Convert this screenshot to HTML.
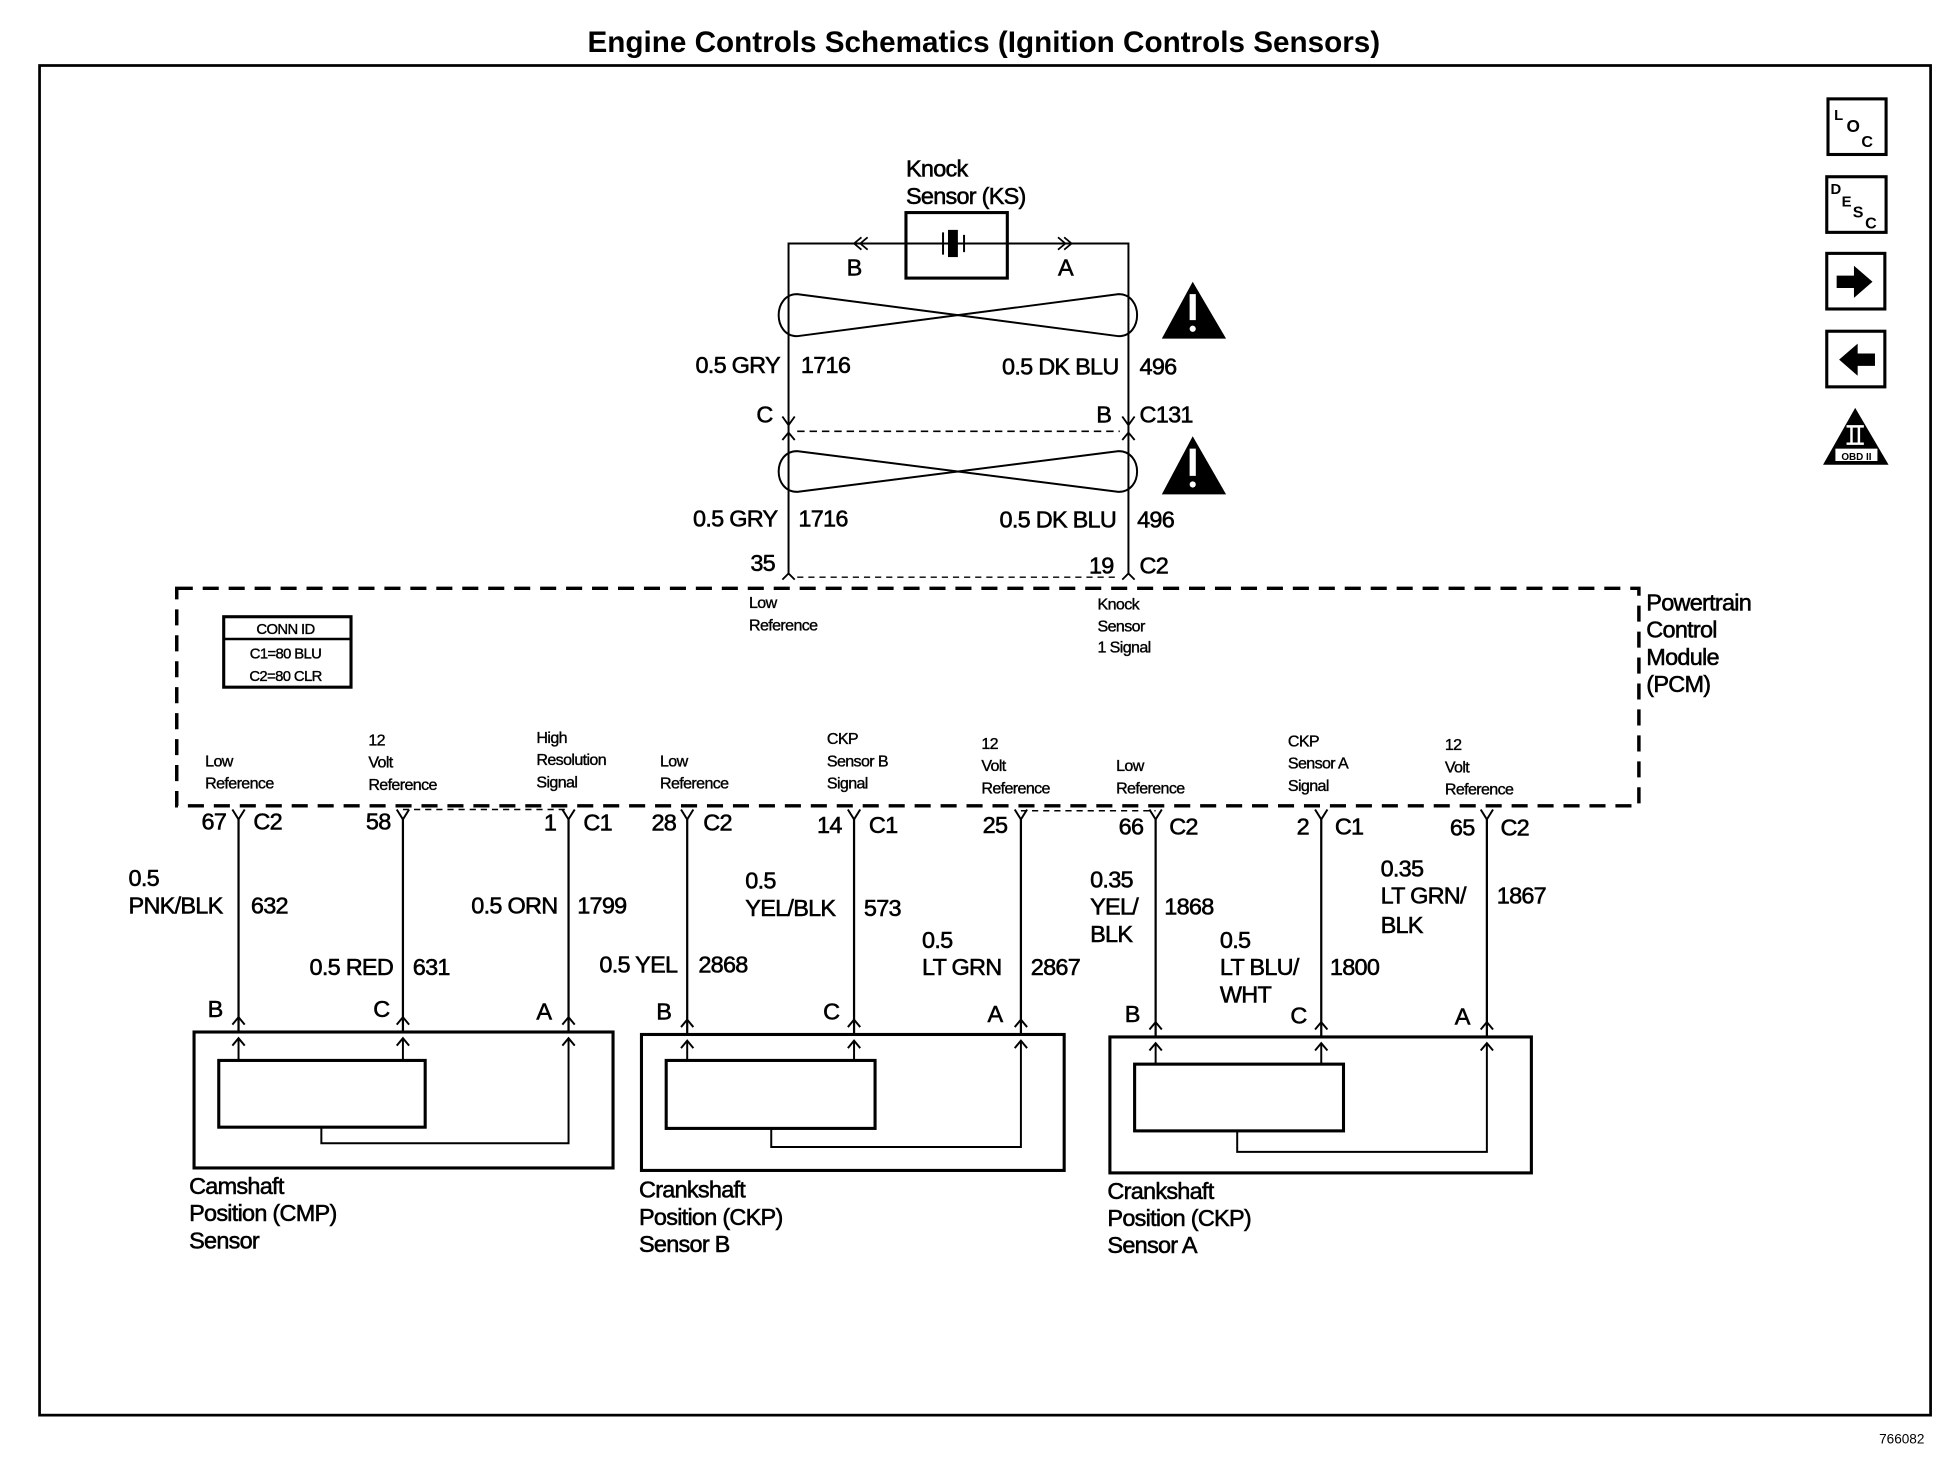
<!DOCTYPE html>
<html><head><meta charset="utf-8"><style>
html,body{margin:0;padding:0;background:#fff;}
svg{display:block;}
text{font-family:"Liberation Sans",sans-serif;fill:#000;}
.m{font-size:19px;letter-spacing:-0.6px;stroke:#000;stroke-width:0.45px;}
.s{font-size:13px;letter-spacing:-0.5px;stroke:#000;stroke-width:0.3px;}
</style></head><body>
<svg width="1938" height="1472" viewBox="0 0 1568 1191" preserveAspectRatio="none" xmlns="http://www.w3.org/2000/svg">
<defs>
<path id="up" d="M-5,6 L0,0 L5,6" fill="none" stroke="#000" stroke-width="1.6"/>
<path id="yy" d="M-5,-8 L0,0 L5,-8" fill="none" stroke="#000" stroke-width="1.6"/>
</defs>
<g stroke="#000" fill="none">
<text x="796" y="42" text-anchor="middle" style="font-size:24px;font-weight:bold;letter-spacing:0px" stroke="none">Engine Controls Schematics (Ignition Controls Sensors)</text>
<rect x="32" y="53" width="1530" height="1092" stroke-width="2.2"/>

<rect x="733" y="172" width="82" height="53" stroke-width="2.5"/>
<path d="M638,465 V197 H913 V465" stroke-width="1.6"/>
<rect x="767" y="186" width="8" height="22" fill="#000" stroke="none"/>
<path d="M763,188 V206 M780,190 V204" stroke-width="1.6"/>
<path d="M697,192 L691,197 L697,202 M702,192 L696,197 L702,202" stroke-width="1.4"/>
<path d="M856,192 L862,197 L856,202 M861,192 L867,197 L861,202" stroke-width="1.4"/>
<path d="M645,238 C625,238 625,272 645,272 L905,238 C925,238 925,272 905,272 Z" stroke-width="1.6"/>
<path d="M645,365 C625,365 625,398 645,398 L905,365 C925,365 925,398 905,398 Z" stroke-width="1.6"/>
<path d="M633,337 L638,344 L643,337 M633,356 L638,350 L643,356 M908,337 L913,344 L918,337 M908,356 L913,350 L918,356" stroke-width="1.5"/>
<path d="M645,349 H906" stroke-width="1.3" stroke-dasharray="6,4"/>
<path d="M633,469 L638,464 L643,469 M908,469 L913,464 L918,469" stroke-width="1.5"/>
<path d="M645,467 H906" stroke-width="1.2" stroke-dasharray="5,4"/>
<rect x="143" y="476" width="1183" height="176" stroke-width="2.8" stroke-dasharray="13,8"/>
<rect x="181" y="499" width="103" height="57" stroke-width="2.5"/>
<path d="M181,517 H284" stroke-width="2"/>
<path d="M326,655 H460 M826,656 H935" stroke-width="1.2" stroke-dasharray="5,4"/>
<g stroke-width="1.8">
<path d="M193,663 V836 M326,663 V836 M460,663 V836 M556,663 V838 M691,663 V838 M826,663 V838 M935,663 V840 M1069,663 V840 M1203,663 V840"/>
</g>
<g>
<use href="#yy" x="193" y="663"/><use href="#yy" x="326" y="663"/><use href="#yy" x="460" y="663"/>
<use href="#yy" x="556" y="663"/><use href="#yy" x="691" y="663"/><use href="#yy" x="826" y="663"/>
<use href="#yy" x="935" y="663"/><use href="#yy" x="1069" y="663"/><use href="#yy" x="1203" y="663"/>
<use href="#up" x="193" y="823"/><use href="#up" x="326" y="823"/><use href="#up" x="460" y="823"/>
<use href="#up" x="556" y="825"/><use href="#up" x="691" y="825"/><use href="#up" x="826" y="825"/>
<use href="#up" x="935" y="827"/><use href="#up" x="1069" y="827"/><use href="#up" x="1203" y="827"/>
<use href="#up" x="193" y="840"/><use href="#up" x="326" y="840"/><use href="#up" x="460" y="840"/>
<use href="#up" x="556" y="842"/><use href="#up" x="691" y="842"/><use href="#up" x="826" y="842"/>
<use href="#up" x="935" y="844"/><use href="#up" x="1069" y="844"/><use href="#up" x="1203" y="844"/>
</g>
<g stroke-width="2.5">
<rect x="157" y="835" width="339" height="110"/><rect x="177" y="858" width="167" height="54"/>
<rect x="519" y="837" width="342" height="110"/><rect x="539" y="858" width="169" height="55"/>
<rect x="898" y="839" width="341" height="110"/><rect x="918" y="861" width="169" height="54"/>
</g>
<g stroke-width="1.6">
<path d="M193,840 V858 M326,840 V858 M260,912 V925 H460 V840"/>
<path d="M556,842 V858 M691,842 V858 M624,913 V928 H826 V842"/>
<path d="M935,844 V861 M1069,844 V861 M1001,915 V932 H1203 V844"/>
</g>
<path d="M965,228 L940,274 L992,274 Z M965,353 L940,400 L992,400 Z" fill="#000" stroke="none"/>
<path d="M965,238 V259 M965,363 V385" stroke="#fff" stroke-width="5"/>
<circle cx="965" cy="266" r="2.5" fill="#fff" stroke="none"/><circle cx="965" cy="392" r="2.5" fill="#fff" stroke="none"/>
<rect x="1479" y="80" width="47" height="45" stroke-width="2.5"/>
<rect x="1478" y="143" width="48" height="45" stroke-width="2.5"/>
<rect x="1478" y="205" width="47" height="45" stroke-width="2.5"/>
<rect x="1478" y="268" width="47" height="45" stroke-width="2.5"/>
<path d="M1486,223 H1500 V215 L1515,228 L1500,241 V233 H1486 Z" fill="#000" stroke="none"/>
<path d="M1517,286 H1503 V278 L1488,291 L1503,304 V296 H1517 Z" fill="#000" stroke="none"/>
<path d="M1501,330 L1475,376 L1528,376 Z" fill="#000" stroke="none"/>
<rect x="1485" y="363" width="34" height="10" fill="#fff" stroke="none"/>
<path d="M1494,345 H1508 M1494,359 H1508 M1498,345 V359 M1504,345 V359" stroke="#fff" stroke-width="2"/>
</g>
<g stroke="none">
<text x="1484" y="97" style="font-size:12px;font-weight:bold">L</text>
<text x="1494" y="107" style="font-size:14px;font-weight:bold">O</text>
<text x="1506" y="119" style="font-size:13px;font-weight:bold">C</text>
<text x="1481" y="157" style="font-size:12px;font-weight:bold">D</text>
<text x="1490" y="167" style="font-size:12px;font-weight:bold">E</text>
<text x="1499" y="176" style="font-size:13px;font-weight:bold">S</text>
<text x="1509" y="185" style="font-size:13px;font-weight:bold">C</text>
<text x="1502" y="372" text-anchor="middle" style="font-size:8px;font-weight:bold">OBD II</text>
</g>
<g>
<text class="m" x="733" y="143">Knock</text>
<text class="m" x="733" y="165">Sensor (KS)</text>
<text class="m" x="685" y="223">B</text>
<text class="m" x="856" y="223">A</text>
<text class="m" x="631" y="302" text-anchor="end">0.5 GRY</text>
<text class="m" x="648" y="302">1716</text>
<text class="m" x="905" y="303" text-anchor="end">0.5 DK BLU</text>
<text class="m" x="922" y="303">496</text>
<text class="m" x="612" y="342">C</text>
<text class="m" x="887" y="342">B</text>
<text class="m" x="922" y="342">C131</text>
<text class="m" x="629" y="426" text-anchor="end">0.5 GRY</text>
<text class="m" x="646" y="426">1716</text>
<text class="m" x="903" y="427" text-anchor="end">0.5 DK BLU</text>
<text class="m" x="920" y="427">496</text>
<text class="m" x="627" y="462" text-anchor="end">35</text>
<text class="m" x="901" y="464" text-anchor="end">19</text>
<text class="m" x="922" y="464">C2</text>

<text class="s" x="606" y="492">Low</text><text class="s" x="606" y="510">Reference</text>
<text class="s" x="888" y="493">Knock</text><text class="s" x="888" y="511">Sensor</text><text class="s" x="888" y="528">1 Signal</text>
<text class="m" x="1332" y="494">Powertrain</text>
<text class="m" x="1332" y="516">Control</text>
<text class="m" x="1332" y="538">Module</text>
<text class="m" x="1332" y="560">(PCM)</text>
<text class="s" x="231" y="513" text-anchor="middle" style="font-size:12px">CONN ID</text>
<text class="s" x="231" y="533" text-anchor="middle" style="font-size:12px">C1=80 BLU</text>
<text class="s" x="231" y="551" text-anchor="middle" style="font-size:12px">C2=80 CLR</text>

<text class="s" x="166" y="620">Low</text><text class="s" x="166" y="638">Reference</text>
<text class="s" x="298" y="603">12</text><text class="s" x="298" y="621">Volt</text><text class="s" x="298" y="639">Reference</text>
<text class="s" x="434" y="601">High</text><text class="s" x="434" y="619">Resolution</text><text class="s" x="434" y="637">Signal</text>
<text class="s" x="534" y="620">Low</text><text class="s" x="534" y="638">Reference</text>
<text class="s" x="669" y="602">CKP</text><text class="s" x="669" y="620">Sensor B</text><text class="s" x="669" y="638">Signal</text>
<text class="s" x="794" y="606">12</text><text class="s" x="794" y="624">Volt</text><text class="s" x="794" y="642">Reference</text>
<text class="s" x="903" y="624">Low</text><text class="s" x="903" y="642">Reference</text>
<text class="s" x="1042" y="604">CKP</text><text class="s" x="1042" y="622">Sensor A</text><text class="s" x="1042" y="640">Signal</text>
<text class="s" x="1169" y="607">12</text><text class="s" x="1169" y="625">Volt</text><text class="s" x="1169" y="643">Reference</text>

<text class="m" x="183" y="671" text-anchor="end">67</text><text class="m" x="205" y="671">C2</text>
<text class="m" x="316" y="671" text-anchor="end">58</text>
<text class="m" x="450" y="672" text-anchor="end">1</text><text class="m" x="472" y="672">C1</text>
<text class="m" x="547" y="672" text-anchor="end">28</text><text class="m" x="569" y="672">C2</text>
<text class="m" x="681" y="674" text-anchor="end">14</text><text class="m" x="703" y="674">C1</text>
<text class="m" x="815" y="674" text-anchor="end">25</text>
<text class="m" x="925" y="675" text-anchor="end">66</text><text class="m" x="946" y="675">C2</text>
<text class="m" x="1059" y="675" text-anchor="end">2</text><text class="m" x="1080" y="675">C1</text>
<text class="m" x="1193" y="676" text-anchor="end">65</text><text class="m" x="1214" y="676">C2</text>

<text class="m" x="104" y="717">0.5</text><text class="m" x="104" y="739">PNK/BLK</text><text class="m" x="203" y="739">632</text>
<text class="m" x="318" y="789" text-anchor="end">0.5 RED</text><text class="m" x="334" y="789">631</text>
<text class="m" x="451" y="739" text-anchor="end">0.5 ORN</text><text class="m" x="467" y="739">1799</text>
<text class="m" x="548" y="787" text-anchor="end">0.5 YEL</text><text class="m" x="565" y="787">2868</text>
<text class="m" x="603" y="719">0.5</text><text class="m" x="603" y="741">YEL/BLK</text><text class="m" x="699" y="741">573</text>
<text class="m" x="746" y="767">0.5</text><text class="m" x="746" y="789">LT GRN</text><text class="m" x="834" y="789">2867</text>
<text class="m" x="882" y="718">0.35</text><text class="m" x="882" y="740">YEL/</text><text class="m" x="882" y="762">BLK</text><text class="m" x="942" y="740">1868</text>
<text class="m" x="987" y="767">0.5</text><text class="m" x="987" y="789">LT BLU/</text><text class="m" x="987" y="811">WHT</text><text class="m" x="1076" y="789">1800</text>
<text class="m" x="1117" y="709">0.35</text><text class="m" x="1117" y="731">LT GRN/</text><text class="m" x="1117" y="755">BLK</text><text class="m" x="1211" y="731">1867</text>

<text class="m" x="168" y="823">B</text><text class="m" x="302" y="823">C</text><text class="m" x="434" y="825">A</text>
<text class="m" x="531" y="825">B</text><text class="m" x="666" y="825">C</text><text class="m" x="799" y="827">A</text>
<text class="m" x="910" y="827">B</text><text class="m" x="1044" y="828">C</text><text class="m" x="1177" y="829">A</text>

<text class="m" x="153" y="966">Camshaft</text><text class="m" x="153" y="988">Position (CMP)</text><text class="m" x="153" y="1010">Sensor</text>
<text class="m" x="517" y="969">Crankshaft</text><text class="m" x="517" y="991">Position (CKP)</text><text class="m" x="517" y="1013">Sensor B</text>
<text class="m" x="896" y="970">Crankshaft</text><text class="m" x="896" y="992">Position (CKP)</text><text class="m" x="896" y="1014">Sensor A</text>
<text x="1557" y="1168" text-anchor="end" style="font-size:11px">766082</text>
</g>
</svg>
</body></html>
